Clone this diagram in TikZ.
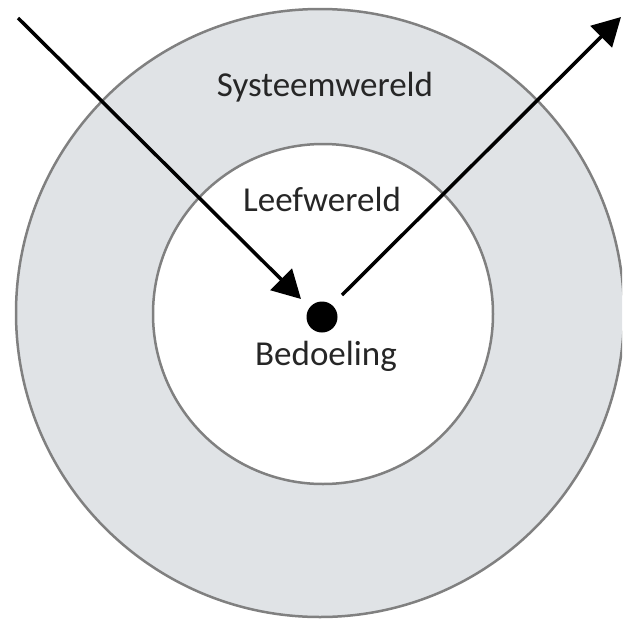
\documentclass[tikz,border=0pt]{standalone}
\usepackage{fontspec}
\setmainfont{Carlito}
\usetikzlibrary{arrows.meta}
\definecolor{ringfill}{HTML}{E0E3E6}
\definecolor{ringline}{HTML}{808080}
\tikzset{
  ring/.style={draw=ringline,line width=2.5pt},
  arr/.style={line width=3.5pt,-{Triangle[length=28pt,width=30pt]}},
  lbl/.style={font=\fontsize{35}{40}\selectfont,text=black!85}
}
\begin{document}
\begin{tikzpicture}[x=1pt,y=-1pt]
\useasboundingbox (0,0) rectangle (622,627);
\clip (0,0) rectangle (622,627);
\fill[white] (0,0) rectangle (622,627);
\node[ring,circle,fill=ringfill,minimum size=608pt,inner sep=0pt] (outer) at (320,313) {};
\node[ring,circle,fill=white,minimum size=340pt,inner sep=0pt] (inner) at (323,314) {};
\node[circle,fill=black,minimum size=31pt,inner sep=0pt] (dot) at (322,317) {};
\node[lbl] (sys) at (325,87) {Systeemwereld};
\node[lbl] (leef) at (322,199) {Leefwereld};
\node[lbl] (bed) at (326,356) {Bedoeling};
\coordinate (in0) at (18,18);
\coordinate (in1) at (301,299);
\coordinate (out0) at (342,295);
\coordinate (out1) at (621,17);
\draw[arr] (in0) -- (in1);
\draw[arr] (out0) -- (out1);
\end{tikzpicture}
\end{document}
